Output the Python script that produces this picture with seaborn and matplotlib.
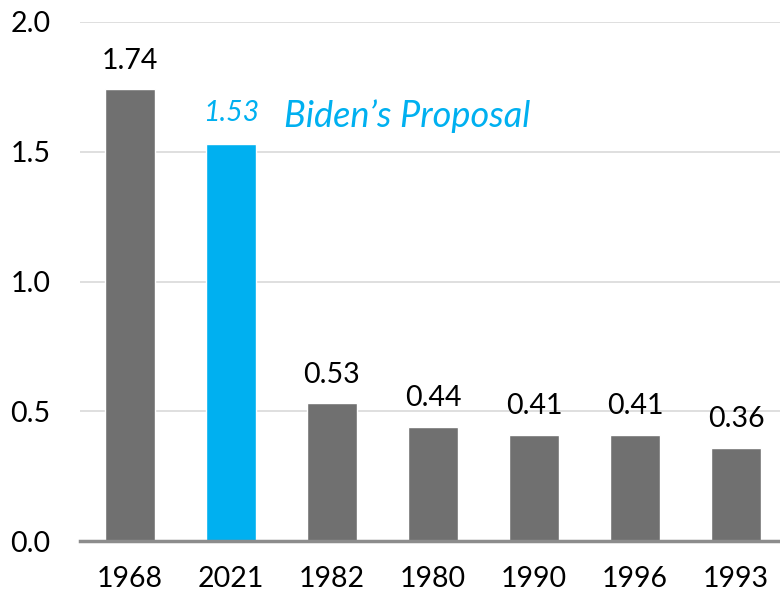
import matplotlib
matplotlib.use("Agg")
import matplotlib.pyplot as plt
import seaborn as sns
import pandas as pd

years = ["1968", "2021", "1982", "1980", "1990", "1996", "1993"]
values = [1.74, 1.53, 0.53, 0.44, 0.41, 0.41, 0.36]
highlight = "2021"
highlight_note = "Biden\u2019s Proposal"
y_ticks = [0.0, 0.5, 1.0, 1.5, 2.0]

GRAY = "#707070"
BLUE = "#00B0F0"

sns.set_theme(style="white")
plt.rcParams["font.family"] = ["Lato", "DejaVu Sans"]

df = pd.DataFrame({"year": years, "value": values})
df["group"] = ["hl" if y == highlight else "base" for y in years]

fig = plt.figure(figsize=(7.8, 5.94), dpi=100)
ax = fig.add_axes([79.5 / 780, 1 - 541 / 594, 1 - 79.5 / 780, (541 - 22) / 594])

sns.barplot(data=df, x="year", y="value", hue="group", order=years,
            palette={"base": GRAY, "hl": BLUE}, width=0.5, dodge=False,
            legend=False, ax=ax, saturation=1)

ax.set_ylim(0, 2.0)
ax.set_xlim(-0.5, (780 - 79.5) / 101 - 0.5)
ax.set_yticks(y_ticks)
ax.set_yticklabels([f"{t:.1f}" for t in y_ticks])
ax.set_xlabel("")
ax.set_ylabel("")
ax.grid(axis="y", color="#d9d9d9", linewidth=1.2, zorder=0)
ax.set_axisbelow(True)
for s in ["top", "right", "left"]:
    ax.spines[s].set_visible(False)
ax.spines["bottom"].set_color("#8c8c8c")
ax.spines["bottom"].set_linewidth(2.5)
ax.tick_params(axis="both", length=0, labelsize=20.5, colors="black")
ax.tick_params(axis="y", pad=21)
ax.tick_params(axis="x", pad=18)

for i, (y, v) in enumerate(zip(years, values)):
    if y == highlight:
        ax.annotate(f"{v:.2f}", (i, v), xytext=(0, 16.5), textcoords="offset points",
                    ha="center", va="baseline", fontsize=20.5, color=BLUE, style="italic")
        ax.annotate(highlight_note, (i, v), xytext=(38, 12), textcoords="offset points",
                    ha="left", va="baseline", fontsize=26, color=BLUE, style="italic")
    else:
        ax.annotate(f"{v:.2f}", (i, v), xytext=(0, 15), textcoords="offset points",
                    ha="center", va="baseline", fontsize=20.5, color="black")

fig.savefig("out.png", dpi=100)
